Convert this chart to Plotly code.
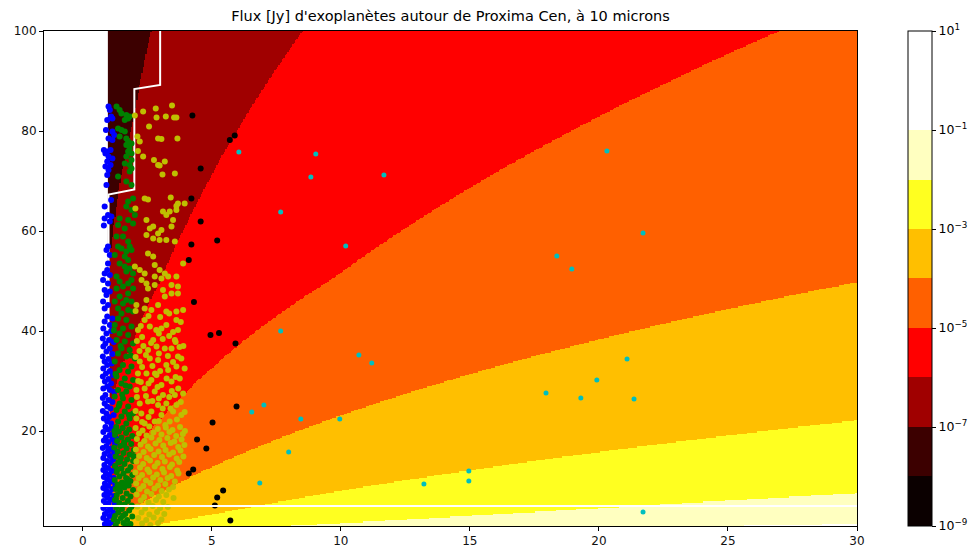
import numpy as np
import plotly.graph_objects as go

# ---------------------------------------------------------------------------
# Model grid: planet radius [R_earth] (x) vs orbital period [days] (y)
# The flux is evaluated on integer radii and linearly interpolated between them.
# ---------------------------------------------------------------------------
radius_nodes = np.arange(1, 31)
radius_fine = np.linspace(1.0, 30.0, 581)
period_grid = np.linspace(1.0, 100.0, 397)

FLUX_SCALE = 3.145e-3      # Jy per R_earth^2 for a unit Planck factor at 10 um, d = 1.30 pc
HC_OVER_LK = 1439.0        # hc / (lambda k) at 10 microns [K]

# Equilibrium temperature vs period (log-log interpolation)
temp_period = [1.0, 7.5, 22.1, 50.2, 100.0]
temp_kelvin = [468.0, 255.0, 181.0, 140.0, 116.6]

level_exponents = [-9, -8, -7, -6, -5, -4, -3, -2, -1, 0, 1]
band_colors = ["#0b0000", "#3c0000", "#a00000", "#ff0000", "#ff6000",
               "#ffbf00", "#ffff20", "#ffffc0", "#ffffff", "#ffffff"]
cbar_ticks = [-9, -7, -5, -3, -1, 1]

# Step line (minimum radius) and horizontal limit
limit_x = [1, 1, 2, 2, 3, 3]
limit_y = [1, 67.3, 68.3, 88.4, 89.2, 100]
iwa_x = [0, 30]
iwa_y = [5, 5]

# ---------------------------------------------------------------------------
# Simulated planets
# ---------------------------------------------------------------------------
blue_x = [1.00, 1.05, 1.10, 0.95, 1.15, 0.90, 1.15, 1.22, 1.00, 1.15, 0.82, 0.95, 1.08, 0.88, 1.00, 1.15,
          0.95, 1.08, 0.88, 1.00, 0.95, 0.92, 1.10,
          0.85, 0.98, 1.11, 0.85, 0.82, 1.05, 0.98, 0.92, 1.05, 0.98, 0.95, 0.85, 1.05, 0.79, 0.98, 0.85,
          1.05, 0.92, 0.79, 0.98, 0.85,
          0.95, 1.15, 0.85, 1.05, 0.80, 1.10, 0.92, 0.78, 1.02, 1.20, 0.88, 0.80, 1.05, 0.92, 1.15, 0.78,
          1.00, 0.85, 1.12, 0.95, 0.80, 1.05, 0.90, 1.18, 0.78, 1.00, 0.86, 1.10, 0.95, 0.80, 1.05, 1.22,
          0.88, 0.78, 1.00, 1.15, 0.85, 0.95, 1.08, 0.78, 0.92, 1.20, 1.02, 0.82, 0.95, 1.10,
          0.88, 1.12, 0.98, 0.80, 1.20, 1.05, 0.90, 1.15, 0.82, 1.00, 1.25, 0.92, 0.78, 1.10, 0.98, 1.22,
          0.85, 1.05, 0.80, 1.18, 0.95, 1.08, 0.84, 1.25, 0.98, 0.80, 1.12, 0.90, 1.02, 0.82, 1.20, 0.95,
          1.08, 0.86, 1.26, 0.98, 0.80, 1.14, 0.92, 1.04, 0.84, 1.22, 0.96, 1.10, 0.82, 1.00, 1.24, 0.90,
          0.80, 1.08, 0.96, 1.18, 0.86, 1.04, 0.80, 1.20, 0.94, 1.10, 0.86, 1.00, 1.30, 1.28, 1.32]
blue_y = [84.9, 84.2, 82.9, 82.2, 82.5, 80.2, 79.9, 79.2, 78.5, 78.2, 76.2, 75.9, 76.2, 75.5, 74.9, 74.5,
          73.9, 73.2, 72.9, 72.2, 71.2, 69.2, 66.2,
          64.9, 63.2, 62.9, 62.5, 61.1, 61.9, 56.9, 56.2, 55.2, 53.5, 52.2, 51.5, 51.2, 50.2, 49.5, 48.2,
          47.9, 47.2, 45.9, 45.2, 44.5,
          42.9, 42.5, 41.9, 41.2, 40.5, 40.0, 39.5, 38.5, 38.2, 37.8, 37.5, 36.9, 36.5, 35.9, 35.4, 34.9,
          34.4, 33.9, 33.5, 33.2, 32.5, 32.0, 31.5, 31.2, 30.9, 30.4, 29.9, 29.5, 28.9, 28.5, 28.2, 27.8,
          27.2, 26.6, 26.2, 25.8, 25.5, 24.9, 24.5, 24.0, 23.5, 23.2, 22.8, 22.5, 21.9, 21.5,
          20.8, 20.6, 20.3, 19.8, 19.6, 19.2, 18.7, 18.4, 18.1, 17.8, 17.5, 17.0, 16.6, 16.5, 16.0, 15.8,
          15.4, 15.0, 14.6, 14.3, 14.0, 13.6, 13.2, 13.0, 12.6, 12.2, 12.0, 11.6, 11.2, 10.8, 10.6, 10.3,
          9.9, 9.5, 9.3, 9.0, 8.6, 8.4, 8.0, 7.6, 7.2, 7.0, 6.7, 6.3, 6.0, 5.6, 5.4, 5.1,
          4.6, 4.4, 4.0, 3.7, 3.4, 3.0, 2.6, 2.4, 2.1, 1.7, 1.4, 1.2, 18.5, 15.2, 12.4]

green_x = [1.31, 1.43, 1.50, 1.69, 1.76, 1.82, 1.63, 1.37, 1.50, 1.63, 1.43, 1.69, 1.76, 1.89, 1.69, 1.82,
           1.76, 1.89, 1.69, 1.89, 1.63, 1.82, 1.89, 1.82, 1.37, 1.69, 1.89, 1.95, 1.76,
           1.69, 1.89, 2.02, 1.43, 1.76, 1.95, 1.37, 1.63, 1.31, 1.56, 1.76, 1.82, 1.37, 1.50, 1.69, 1.89,
           1.24, 1.63, 1.76, 1.43, 1.63, 1.82, 1.69, 1.95, 1.31, 1.89, 1.43, 1.76, 1.56, 1.31, 1.95, 1.76,
           1.43, 1.69, 1.89, 1.24, 1.56, 1.37, 1.76, 1.95, 1.50,
           1.37, 1.69, 1.24, 1.56, 1.89, 1.43, 1.76, 1.31, 1.63, 1.95, 1.50, 1.82, 1.37, 1.69, 2.02, 1.24,
           1.56, 1.89, 1.43, 1.76, 1.31, 1.63, 1.95, 1.50, 1.82, 1.37, 1.69, 1.24, 1.56, 1.89, 1.43, 1.76,
           1.31, 1.63, 1.95, 1.50, 1.82, 1.37, 1.69,
           1.30, 1.55, 1.80, 1.40, 1.68, 1.25, 1.92, 1.50, 1.75, 1.33, 1.60, 1.88, 1.45, 1.22, 1.70, 1.98,
           1.35, 1.58, 1.82, 1.28, 1.48, 1.72, 1.95, 1.38, 1.62, 1.25, 1.85, 1.50, 1.75, 1.32, 1.58, 1.92,
           1.42, 1.68, 1.24, 1.85, 1.52, 1.35, 1.78, 1.62, 1.28, 1.95, 1.45, 1.70, 1.32, 1.85, 1.55, 1.25,
           1.75, 1.42, 1.62, 1.90, 1.30, 1.52, 1.80, 1.38, 1.65, 1.25, 1.92, 1.48, 1.72, 1.35, 1.58, 1.85,
           1.28, 1.68,
           1.21, 1.47, 1.86, 1.27, 1.66, 1.53, 1.40, 1.79, 1.23, 1.61, 1.97, 1.34, 1.73, 1.46, 1.29, 1.88,
           1.57, 1.21, 1.67, 1.44]
green_y = [84.9, 84.2, 83.5, 83.2, 82.5, 82.9, 82.2, 80.5, 80.2, 79.9, 78.9, 78.5, 77.9, 77.5, 77.2, 76.5,
           75.9, 75.5, 74.9, 74.2, 73.5, 73.2, 72.5, 71.9, 70.9, 69.9, 69.2, 66.5, 65.9,
           64.9, 64.2, 63.2, 62.5, 62.2, 61.5, 61.2, 60.5, 58.9, 58.9, 57.9, 56.9, 56.9, 56.5, 55.9, 56.2,
           55.2, 54.9, 54.2, 53.5, 52.9, 52.5, 51.9, 51.5, 50.9, 50.2, 49.9, 49.5, 48.9, 48.5, 48.5, 47.5,
           46.9, 46.2, 45.9, 45.9, 45.5, 44.5, 44.2, 43.9, 43.5,
           42.5, 42.2, 41.2, 40.5, 40.9, 39.5, 39.2, 38.2, 37.9, 37.5, 36.5, 36.2, 35.5, 34.9, 34.5, 33.9,
           33.2, 32.9, 32.2, 31.9, 30.9, 30.5, 30.2, 29.5, 28.9, 28.2, 27.9, 26.9, 26.5, 26.2, 25.5, 24.9,
           24.2, 23.9, 23.5, 22.9, 22.5, 21.9, 21.5,
           20.8, 20.6, 20.3, 19.9, 19.6, 19.2, 19.0, 18.7, 18.3, 18.0, 17.7, 17.4, 17.0, 16.7, 16.5, 16.2,
           15.9, 15.6, 15.3, 14.9, 14.6, 14.3, 14.0, 13.7, 13.4, 13.0, 12.8, 12.5, 12.1, 11.8, 11.5, 11.2,
           10.9, 10.6, 10.2, 10.0, 9.7, 9.3, 9.1, 8.7, 8.4, 8.2, 7.9, 7.5, 7.2, 6.9, 6.6, 6.2,
           6.0, 5.6, 5.3, 5.1, 4.7, 4.4, 4.1, 3.7, 3.4, 3.0, 2.9, 2.6, 2.2, 1.9, 1.6, 1.4,
           1.2, 1.1,
           40.1, 37.0, 35.1, 31.4, 29.1, 27.3, 25.0, 23.2, 20.0, 17.2, 15.0, 12.3, 10.4, 8.8, 6.4, 4.8,
           3.1, 2.3, 9.6, 13.9]

yellow_x = [2.34, 2.83, 3.46, 2.57, 2.86, 3.22, 3.54, 3.63, 2.12, 2.21, 2.92, 3.05, 3.67, 2.34, 2.76, 2.92,
            2.98, 3.18, 3.57, 3.09, 2.14, 2.40, 2.53, 3.41, 3.69, 3.95, 3.63, 2.04, 2.02,
            3.11, 3.37, 3.63, 3.24, 3.50, 2.47, 2.73, 3.05, 2.60, 2.92, 3.44, 2.47, 2.73, 2.98, 3.24, 3.57,
            2.53, 2.73, 2.02, 2.21, 2.40, 2.79, 2.98, 3.18, 2.79, 3.05, 3.31, 3.63, 3.89, 3.44, 3.69, 2.28,
            2.47, 2.79, 2.53, 3.11, 3.18, 3.44, 3.69, 2.08, 2.40, 2.66, 2.92, 3.24, 3.63, 3.89, 2.47,
            2.14, 2.40, 2.60, 3.05, 3.24, 3.63, 3.69, 3.57, 2.73, 2.53, 2.86, 3.18, 3.44, 3.69, 2.21, 2.60,
            2.92, 3.24, 3.63, 3.82, 2.14, 2.47, 2.86, 3.31, 2.66, 3.05, 3.44, 3.76, 2.08, 2.40, 2.79, 3.11,
            3.57, 3.89, 2.21, 2.53, 2.92, 3.24, 3.63, 2.27, 2.66, 3.05, 3.50, 3.82, 2.08, 2.79, 3.37, 2.40,
            2.30, 3.35, 2.95, 2.20, 3.90, 2.45, 3.00, 2.25, 3.60, 2.95, 2.10, 3.40,
            2.05, 2.55, 3.00, 3.35, 3.80, 2.25, 2.85, 3.50, 2.10, 2.65, 3.10, 3.75, 2.35, 2.95, 3.30, 2.05,
            2.70, 3.50, 3.95, 2.30, 2.55, 2.90, 3.25, 3.70, 2.15, 2.45, 3.35, 3.80, 2.70, 3.10, 2.05, 2.55,
            2.95, 3.65, 3.20, 2.30, 3.95, 3.45, 2.80, 3.60,
            2.05, 2.32, 2.58, 2.91, 3.22, 3.48, 3.77, 3.96, 2.18, 2.47, 2.74, 3.05, 3.36, 3.62, 3.88,
            2.10, 2.39, 2.66, 2.97, 3.28, 3.55, 3.83, 2.24, 2.53, 2.82, 3.12, 3.41, 3.70, 3.94,
            2.06, 2.36, 2.63, 2.94, 3.21, 3.50, 3.79, 2.19, 2.48, 2.77, 3.07, 3.35, 3.64, 3.90,
            2.08, 2.34, 2.61, 2.90, 3.18, 3.46, 3.74, 2.22, 2.51, 2.79, 3.09, 3.38, 3.66,
            2.04, 2.30, 2.58, 2.87, 3.15, 3.43, 3.71, 2.17, 2.45, 2.73, 3.01, 3.29, 3.57,
            2.07, 2.35, 2.62, 2.92, 3.20, 3.50, 2.21, 2.49, 2.78, 3.06, 3.34,
            2.09, 2.38, 2.66, 2.95, 3.24, 3.52, 2.25, 2.55, 2.84, 3.12,
            2.12, 2.42, 2.71, 3.00, 3.30, 2.28, 2.58, 2.88, 3.16,
            2.15, 2.46, 2.75, 3.05, 2.30, 2.62, 2.92]
yellow_y = [83.9, 84.5, 85.1, 80.9, 82.7, 82.9, 82.7, 82.7, 78.9, 77.9, 78.5, 78.4, 78.5, 74.9, 74.2, 73.2,
            73.1, 73.9, 71.5, 71.3, 76.0, 66.5, 66.3, 66.7, 65.5, 65.5, 65.0, 64.5, 83.1,
            63.9, 63.9, 64.2, 63.2, 62.2, 62.2, 60.9, 60.2, 60.5, 59.5, 60.9, 59.2, 58.5, 58.2, 58.2, 57.9,
            55.5, 54.9, 52.9, 52.2, 51.5, 53.2, 52.2, 51.5, 50.9, 50.5, 50.9, 50.9, 53.5, 49.2, 48.9, 50.2,
            49.5, 49.2, 48.5, 48.2, 46.9, 47.5, 47.5, 45.2, 44.5, 44.2, 45.2, 43.9, 43.9, 44.2, 46.2,
            40.2, 42.2, 40.9, 40.5, 41.2, 42.2, 40.2, 38.2, 38.2, 36.2, 36.9, 36.5, 36.5, 34.9, 33.9, 34.5,
            34.2, 33.2, 32.9, 34.5, 31.5, 31.5, 31.2, 32.2, 30.2, 29.2, 29.9, 30.5, 28.2, 28.5, 27.9, 27.2,
            27.2, 27.5, 25.5, 25.9, 25.2, 25.5, 25.2, 23.5, 23.9, 23.2, 23.9, 23.2, 22.5, 21.9, 21.9, 21.5,
            38.8, 39.0, 39.5, 36.0, 37.0, 35.2, 32.0, 29.8, 30.8, 26.5, 26.8, 24.5,
            44.0, 43.0, 42.8, 43.5, 41.8, 41.0, 40.2, 39.8, 38.0, 37.6, 38.4, 36.8, 37.0, 35.5, 35.0, 34.8,
            33.0, 33.8, 32.5, 32.8, 29.5, 28.8, 30.5, 28.5, 30.0, 27.0, 26.8, 25.8, 26.0, 24.5, 24.0, 22.8,
            22.0, 22.3, 21.2, 21.8, 23.8, 28.0, 31.5, 37.8,
            20.6, 20.1, 20.9, 20.4, 20.7, 20.2, 20.8, 20.0, 19.5, 19.1, 19.7, 19.3, 19.8, 19.0, 19.4,
            18.4, 18.0, 18.7, 18.2, 18.6, 17.9, 18.3, 17.3, 16.9, 17.5, 17.1, 17.6, 16.8, 17.2,
            16.3, 15.8, 16.4, 15.9, 16.2, 15.7, 16.1, 15.0, 14.6, 15.2, 14.8, 15.3, 14.5, 14.9,
            13.9, 13.4, 14.1, 13.6, 13.9, 13.3, 13.8, 12.7, 12.3, 12.9, 12.4, 12.8, 12.1,
            11.7, 11.2, 11.8, 11.3, 11.7, 11.0, 11.5, 10.6, 10.1, 10.7, 10.2, 10.6, 9.9,
            9.5, 9.0, 9.6, 9.1, 9.4, 8.8, 8.4, 7.9, 8.5, 8.0, 8.3,
            7.3, 6.8, 7.4, 6.9, 7.2, 6.6, 6.1, 5.7, 6.2, 5.8,
            4.9, 4.5, 5.0, 4.6, 4.8, 3.7, 3.3, 3.8, 3.4,
            2.6, 2.2, 2.7, 2.3, 1.5, 1.2, 1.6]

black_x = [4.25, 5.70, 5.89, 4.57, 4.21, 4.57, 4.21, 5.21, 4.11, 4.31, 4.95, 5.28, 5.92, 5.96, 5.03, 4.43,
           4.79, 4.11, 4.28, 5.44, 5.21, 5.72, 5.12]
black_y = [83.1, 78.2, 79.1, 72.5, 66.5, 61.9, 57.3, 58.1, 54.2, 45.8, 39.2, 39.6, 37.5, 24.9, 21.7, 18.3,
           16.5, 11.5, 12.3, 8.1, 6.7, 2.1, 5.1]

cyan_x = [6.05, 9.03, 8.84, 11.67, 20.31, 21.71, 7.67, 10.19, 18.37, 18.95, 7.67, 10.70, 11.20, 21.09,
          19.92, 17.95, 19.30, 21.36, 7.02, 6.55, 8.45, 9.96, 7.98, 14.96, 14.96, 13.22, 6.86, 21.71]
cyan_y = [75.8, 75.4, 70.8, 71.2, 76.0, 59.6, 63.8, 57.0, 55.0, 52.4, 40.0, 35.2, 33.6, 34.4,
          30.2, 27.6, 26.6, 26.4, 25.2, 23.8, 22.4, 22.4, 15.8, 12.0, 10.0, 9.4, 9.6, 3.8]

# ---------------------------------------------------------------------------
# Flux map (log10 Jy)
# ---------------------------------------------------------------------------
temperature = np.exp(np.interp(np.log(period_grid), np.log(temp_period), np.log(temp_kelvin)))
planck = 1.0 / np.expm1(HC_OVER_LK / temperature)
flux_nodes = FLUX_SCALE * planck[:, None] * radius_nodes[None, :] ** 2
flux = np.array([np.interp(radius_fine, radius_nodes, row) for row in flux_nodes])
log_flux = np.clip(np.log10(flux), level_exponents[0], level_exponents[-1])

zmin, zmax = level_exponents[0], level_exponents[-1]
nb = len(band_colors)
colorscale = []
for i, c in enumerate(band_colors):
    colorscale.append([i / nb, c])
    colorscale.append([(i + 1) / nb, c])

fig = go.Figure()
fig.add_trace(go.Heatmap(
    x=radius_fine, y=period_grid, z=log_flux,
    zmin=zmin, zmax=zmax, colorscale=colorscale, zsmooth=False,
    hoverinfo="skip",
    colorbar=dict(
        x=(908 - 44) / 813, xanchor="left", xpad=0,
        y=0.5, yanchor="middle", len=1.0, ypad=0,
        thickness=24, outlinewidth=1, outlinecolor="black",
        tickvals=cbar_ticks,
        ticktext=[f"10<sup>{'−' if t < 0 else ''}{abs(t)}</sup>" for t in cbar_ticks],
        ticks="outside", ticklen=4, tickcolor="black",
        tickfont=dict(family="DejaVu Sans", size=12.5, color="black"),
    ),
))

fig.add_trace(go.Scatter(x=limit_x, y=limit_y, mode="lines",
                         line=dict(color="white", width=2), hoverinfo="skip"))

marker_size = 6
for xs, ys, col, size in [(blue_x, blue_y, "#0000ff", marker_size),
                          (green_x, green_y, "#008000", marker_size),
                          (yellow_x, yellow_y, "#bfbf00", marker_size),
                          (black_x, black_y, "#000000", marker_size),
                          (cyan_x, cyan_y, "#00bfbf", 5)]:
    fig.add_trace(go.Scatter(x=xs, y=ys, mode="markers",
                             marker=dict(color=col, size=size, line=dict(width=0))))

fig.add_trace(go.Scatter(x=iwa_x, y=iwa_y, mode="lines",
                         line=dict(color="white", width=2), hoverinfo="skip"))

axis_common = dict(showline=True, mirror=True, linecolor="black", linewidth=1,
                   ticks="outside", ticklen=4, tickcolor="black", showgrid=False,
                   zeroline=False, tickfont=dict(family="DejaVu Sans", size=12, color="#111"))
fig.update_xaxes(range=[-1.5, 30], tickvals=[0, 5, 10, 15, 20, 25, 30], **axis_common)
fig.update_yaxes(range=[1, 100], tickvals=[20, 40, 60, 80, 100], **axis_common)

fig.update_layout(
    width=976, height=552,
    margin=dict(l=44, r=119, t=31, b=26, autoexpand=False),
    paper_bgcolor="white", plot_bgcolor="white",
    showlegend=False,
    title=dict(text="Flux [Jy] d'exoplanètes autour de Proxima Cen, à 10 microns",
               x=450.5 / 976, xanchor="center", y=1 - 16 / 552, yanchor="middle",
               font=dict(family="DejaVu Sans", size=14.5, color="black")),
)

fig.write_html("out.html")
